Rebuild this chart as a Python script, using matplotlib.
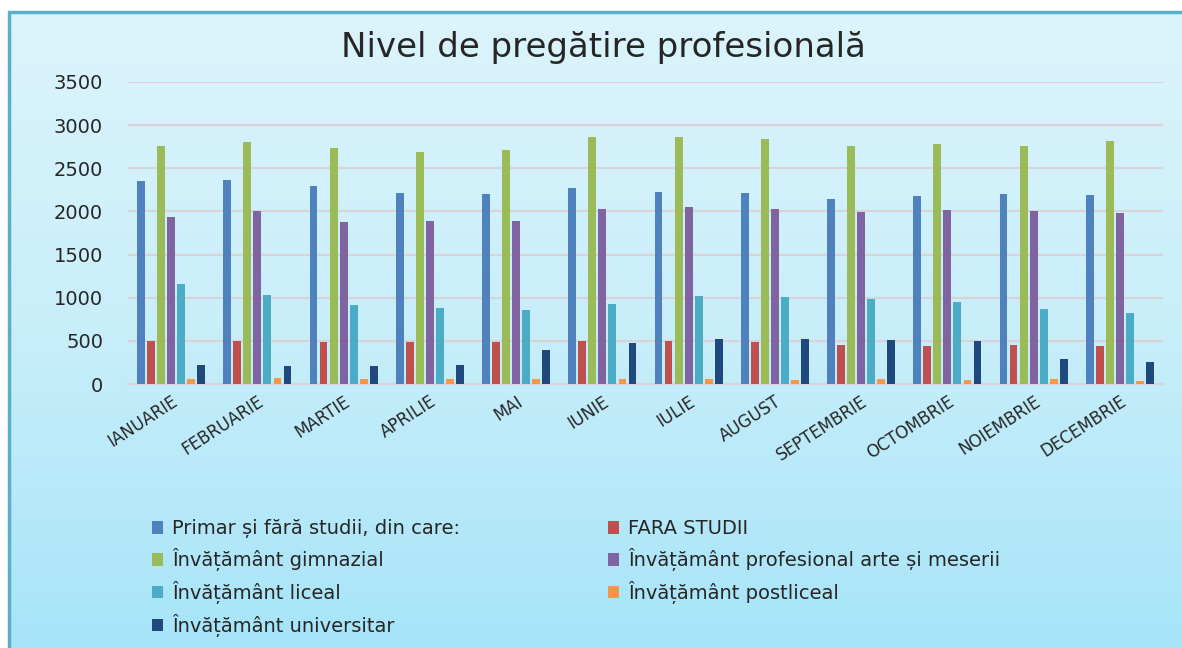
import matplotlib
matplotlib.use("Agg")
import matplotlib.pyplot as plt
import numpy as np
from matplotlib.colors import LinearSegmentedColormap

# data
months=["IANUARIE","FEBRUARIE","MARTIE","APRILIE","MAI","IUNIE",
        "IULIE","AUGUST","SEPTEMBRIE","OCTOMBRIE","NOIEMBRIE","DECEMBRIE"]
series_names=[
    "Primar și fără studii, din care:",
    "FARA STUDII",
    "Învățământ gimnazial",
    "Învățământ profesional arte și meserii",
    "Învățământ liceal",
    "Învățământ postliceal",
    "Învățământ universitar",
]
primar=[2352,2363,2300,2211,2199,2273,2230,2211,2144,2176,2199,2188]
fara_studii=[500,500,490,490,485,496,496,484,449,438,449,438]
gimnazial=[2758,2804,2735,2692,2715,2865,2858,2835,2758,2785,2758,2812]
profesional=[1934,2000,1879,1891,1891,2023,2055,2031,1992,2012,2000,1980]
liceal=[1156,1035,914,879,855,926,1023,1012,988,945,867,824]
postliceal=[59,70,59,59,59,59,59,51,59,47,59,39]
universitar=[215,203,203,215,391,480,523,523,512,500,289,258]
yticks=[0,500,1000,1500,2000,2500,3000,3500]

SERIES=[primar,fara_studii,gimnazial,profesional,liceal,postliceal,universitar]
COLORS=["#4F81BD","#C0504D","#9BBB59","#8064A2","#4BACC6","#F79646","#1F497D"]
INK="#262626"
GRID="#D9D3D7"
BORDER="#5AAFC8"

plt.rcParams["font.family"]="DejaVu Sans"
W,H=1182,648
fig=plt.figure(figsize=(W/100,H/100),dpi=100)
fig.patch.set_facecolor("white")

# gradient panel behind the chart
bg=fig.add_axes([0,0,1,1],zorder=0)
bg.axis("off")
grad=LinearSegmentedColormap.from_list("bg",["#DCF4FC","#C8EEFA","#A6E4F8"])
bg.imshow(np.linspace(0,1,256).reshape(-1,1),cmap=grad,aspect="auto",
          extent=[9,W+5,H+5,12],zorder=1)
bg.plot([9,9,W+5],[H+5,12,12],color=BORDER,lw=2.5,zorder=2,solid_joinstyle="miter")
bg.set_xlim(0,W)
bg.set_ylim(H,0)

ax=fig.add_axes([128/W,1-384/H,(1163-128)/W,(384-82)/H],zorder=2)
ax.set_facecolor("none")
x=np.arange(len(months))
pitch=0.116
width=0.09
handles=[]
for i,(vals,c) in enumerate(zip(SERIES,COLORS)):
    b=ax.bar(x+(i-3)*pitch,vals,width=width,color=c,zorder=3)
    handles.append(b)
ax.set_xlim(-0.5,len(months)-0.5)
ax.set_ylim(0,3500)
ax.set_yticks(yticks)
ax.set_yticklabels([str(t) for t in yticks],fontsize=14,color=INK)
ax.yaxis.grid(True,color=GRID,lw=1.5,zorder=0)
ax.set_axisbelow(True)
for s in ["top","right","left"]:
    ax.spines[s].set_visible(False)
ax.spines["bottom"].set_color(GRID)
ax.spines["bottom"].set_linewidth(1.5)
ax.tick_params(axis="y",length=0,pad=18)
ax.tick_params(axis="x",length=0,pad=6)
ax.set_xticks(x)
ax.set_xticklabels(months,rotation=33,ha="right",va="top",
                   rotation_mode="anchor",fontsize=12,color=INK)

fig.text(603/W,1-47/H,"Nivel de pregătire profesională",ha="center",va="center",
         fontsize=24.5,color=INK)

order=[0,2,4,6,1,3,5]
leg=fig.legend([handles[k] for k in order],[series_names[k] for k in order],
               ncol=2,loc="upper left",bbox_to_anchor=(134/W,1-502/H),
               frameon=False,fontsize=14,handlelength=0.6,handleheight=0.6,
               handletextpad=0.45,labelspacing=0.5,columnspacing=7.6,
               labelcolor=INK)

fig.savefig("out.png",dpi=100,facecolor="white")
